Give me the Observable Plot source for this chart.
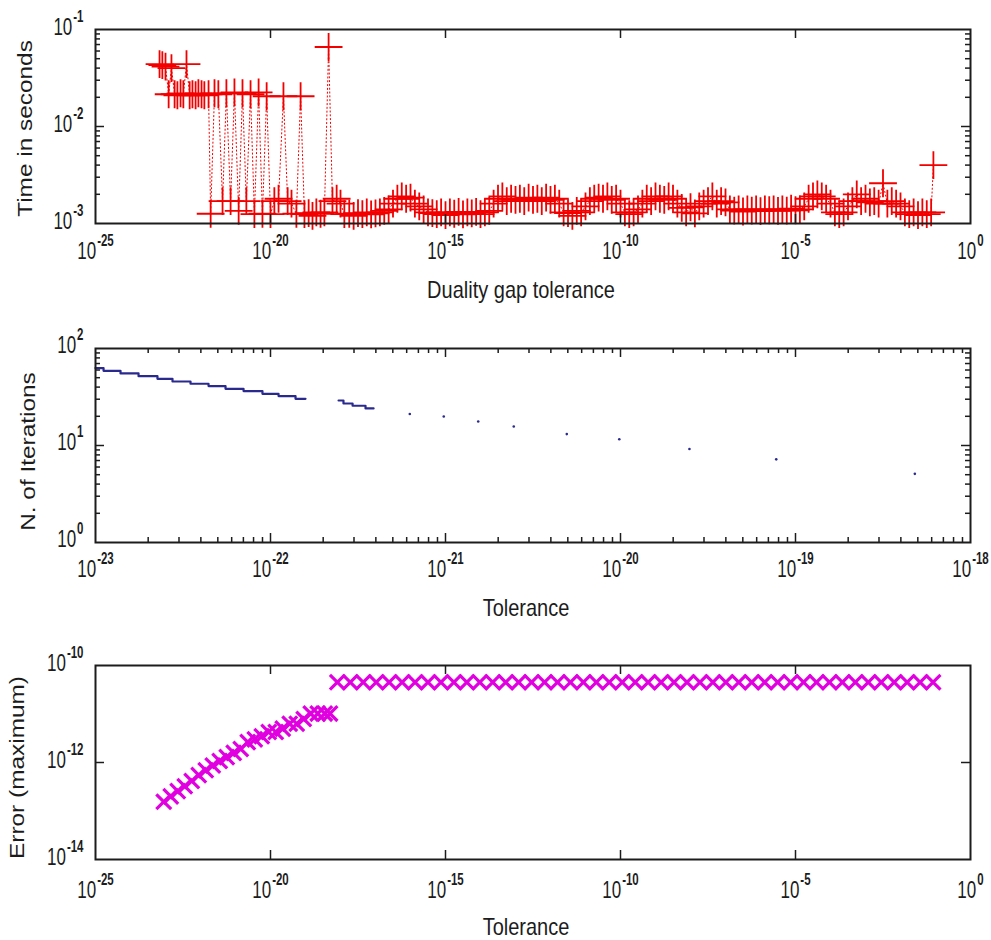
<!DOCTYPE html>
<html>
<head>
<meta charset="utf-8">
<script src="https://cdn.jsdelivr.net/npm/d3@7"></script>
<script src="https://cdn.jsdelivr.net/npm/@observablehq/plot@0.6"></script>
<style>
  html, body { margin: 0; padding: 0; background: #fff; }
  #chart { width: 991px; height: 940px; overflow: hidden; }
  #chart svg { display: block; }
</style>
</head>
<body>
<div id="chart"></div>
<script>
// ---------- Panel 1: time in seconds vs duality gap tolerance (log10 of tolerance) ----------
const timeTolExp = [
  -23.17, -23.09, -23.0, -22.91, -22.83, -22.74, -22.66, -22.57, -22.49, -22.4, -22.31, -22.23, -22.14, -22.06, -21.97, -21.89,
  -21.77, -21.71, -21.6, -21.49, -21.37, -21.26, -21.14, -21.03, -20.91, -20.8, -20.69, -20.57, -20.46, -20.34, -20.23, -20.11,
  -20.0, -19.89, -19.77, -19.63, -19.51, -19.4, -19.26, -19.14, -19.03, -18.91, -18.8, -18.69, -18.57, -18.46, -18.34, -18.23,
  -18.11, -18.0, -17.89,
  -17.75, -17.625, -17.5, -17.375, -17.25, -17.125, -17.0, -16.875, -16.75, -16.625, -16.5, -16.375, -16.25, -16.125,
  -16.0, -15.875, -15.75, -15.625, -15.5, -15.375, -15.25, -15.125, -15.0, -14.875, -14.75, -14.625, -14.5, -14.375,
  -14.25, -14.125, -14.0, -13.875, -13.75, -13.625, -13.5, -13.375, -13.25, -13.125, -13.0, -12.875, -12.75, -12.625,
  -12.5, -12.375, -12.25, -12.125, -12.0, -11.875, -11.75, -11.625, -11.5, -11.375, -11.25, -11.125, -11.0, -10.875,
  -10.75, -10.625, -10.5, -10.375, -10.25, -10.125, -10.0, -9.875, -9.75, -9.625, -9.5, -9.375, -9.25, -9.125,
  -9.0, -8.875, -8.75, -8.625, -8.5, -8.375, -8.25, -8.125, -8.0, -7.875, -7.75, -7.625, -7.5, -7.375,
  -7.25, -7.125, -7.0, -6.875, -6.75, -6.625, -6.5, -6.375, -6.25, -6.125, -6.0, -5.875, -5.75, -5.625,
  -5.5, -5.375, -5.25, -5.125, -5.0, -4.875, -4.75, -4.625, -4.5, -4.375, -4.25, -4.125, -4.0, -3.875,
  -3.75, -3.625, -3.5, -3.375, -3.25, -3.125, -3.0, -2.875, -2.75, -2.625, -2.5, -2.375, -2.25, -2.125,
  -2.0, -1.875, -1.75, -1.625, -1.5, -1.375, -1.25, -1.125, -1.06
];
const timeSec = [
  0.044, 0.043, 0.0415, 0.0215, 0.040, 0.0215, 0.021, 0.022, 0.0215, 0.044, 0.021, 0.0215, 0.021, 0.022, 0.0215, 0.021,
  0.0215, 0.00126, 0.022, 0.0215, 0.0017, 0.022, 0.0017, 0.0225, 0.00135, 0.022, 0.0017, 0.0215, 0.00125, 0.0225, 0.00126, 0.0205,
  0.00125, 0.0017, 0.0018, 0.0205, 0.0017, 0.0016, 0.00126, 0.0205, 0.00125, 0.00128, 0.0012, 0.0013, 0.00126, 0.0013, 0.066, 0.0017,
  0.0018, 0.0016, 0.00125,
  0.00126, 0.0012, 0.00128, 0.00125, 0.0013, 0.00124, 0.00127, 0.0013, 0.00135, 0.0014, 0.0016, 0.0018, 0.0019, 0.0018,
  0.00185, 0.0016, 0.0015, 0.0014, 0.0013, 0.00128, 0.00125, 0.0013, 0.00122, 0.0013, 0.00126, 0.00132, 0.00124, 0.0013,
  0.00127, 0.00132, 0.00125, 0.0013, 0.00135, 0.0016, 0.0018, 0.0019, 0.0017, 0.0018, 0.00175, 0.0018, 0.0017, 0.00185,
  0.00175, 0.0018, 0.0017, 0.00185, 0.00175, 0.0018, 0.0016, 0.0013, 0.00128, 0.0012, 0.00135, 0.0013, 0.0015, 0.0017,
  0.0018, 0.00185, 0.0018, 0.0019, 0.00175, 0.0018, 0.0016, 0.0013, 0.00125, 0.0013, 0.0014, 0.0016, 0.0018, 0.0017,
  0.0019, 0.0018, 0.00175, 0.0019, 0.0018, 0.0016, 0.00145, 0.0013, 0.00147, 0.00127, 0.0015, 0.0016, 0.0017, 0.0019,
  0.0016, 0.0017, 0.00165, 0.0014, 0.00136, 0.0014, 0.00133, 0.0014, 0.00136, 0.0014, 0.00134, 0.0014, 0.00137, 0.0014,
  0.00135, 0.0014, 0.00136, 0.00142, 0.00137, 0.0014, 0.0015, 0.0018, 0.0019, 0.002, 0.0019, 0.0018, 0.0016, 0.0013,
  0.00125, 0.0013, 0.0015, 0.0017, 0.002, 0.0017, 0.0018, 0.00165, 0.0017, 0.0016, 0.0026, 0.0016, 0.0017, 0.0016,
  0.0015, 0.0013, 0.00125, 0.0013, 0.00122, 0.0013, 0.00125, 0.0013, 0.004
];

// ---------- Panel 2: number of iterations vs tolerance ----------
const iterTolExpA = [-23.0, -22.954, -22.857, -22.754, -22.646, -22.56, -22.457, -22.354, -22.257, -22.154, -22.046, -21.954, -21.857, -21.8];
const iterA       = [62.8, 58.9, 55.3, 51.9, 48.7, 45.7, 43.3, 41.0, 38.4, 36.4, 34.1, 32.3, 30.3, 30.3];
const iterTolExpB = [-21.611, -21.583, -21.531, -21.457, -21.411];
const iterB       = [29.1, 27.1, 25.7, 24.1, 24.1];
const iterDotExp  = [-21.204, -21.01, -20.813, -20.61, -20.307, -20.007, -19.606, -19.11, -18.318];
const iterDot     = [21.1, 19.9, 17.7, 15.7, 13.1, 11.6, 9.2, 7.2, 5.1];

// ---------- Panel 3: maximum error vs tolerance ----------
const errTolExp = [
  -23.05, -22.85, -22.65, -22.45, -22.25, -22.05, -21.85, -21.65, -21.45, -21.25, -21.05, -20.85, -20.65,
  -20.45, -20.25, -20.05, -19.85, -19.65, -19.45, -19.25, -19.05, -18.85, -18.65, -18.45, -18.3,
  -18.09, -17.72, -17.35, -16.98, -16.61, -16.24, -15.87, -15.5, -15.13, -14.76, -14.39, -14.02, -13.65, -13.28,
  -12.91, -12.54, -12.17, -11.8, -11.43, -11.06, -10.69, -10.32, -9.95, -9.58, -9.21, -8.84, -8.47, -8.1,
  -7.73, -7.36, -6.99, -6.62, -6.25, -5.88, -5.51, -5.14, -4.77, -4.4, -4.03, -3.66, -3.29, -2.92,
  -2.55, -2.18, -1.81, -1.44, -1.07
];
const errMax = [
  1.55e-13, 2.0e-13, 2.57e-13, 3.24e-13, 4.17e-13, 5.5e-13, 6.9e-13, 8.7e-13, 1.07e-12, 1.29e-12, 1.58e-12, 1.9e-12, 2.63e-12,
  3.0e-12, 3.47e-12, 4.27e-12, 4.27e-12, 5.0e-12, 6.3e-12, 6.3e-12, 7.9e-12, 1.02e-11, 1.02e-11, 1.02e-11, 1.02e-11,
  4.5e-11, 4.5e-11, 4.5e-11, 4.5e-11, 4.5e-11, 4.5e-11, 4.5e-11, 4.5e-11, 4.5e-11, 4.5e-11, 4.5e-11, 4.5e-11, 4.5e-11, 4.5e-11,
  4.5e-11, 4.5e-11, 4.5e-11, 4.5e-11, 4.5e-11, 4.5e-11, 4.5e-11, 4.5e-11, 4.5e-11, 4.5e-11, 4.5e-11, 4.5e-11, 4.5e-11, 4.5e-11,
  4.5e-11, 4.5e-11, 4.5e-11, 4.5e-11, 4.5e-11, 4.5e-11, 4.5e-11, 4.5e-11, 4.5e-11, 4.5e-11, 4.5e-11, 4.5e-11, 4.5e-11, 4.5e-11,
  4.5e-11, 4.5e-11, 4.5e-11, 4.5e-11, 4.5e-11
];

// ---------- Axis tick labels (exponents of 10) ----------
const xLabelExp1 = [-25, -20, -15, -10, -5, 0];
const yLabelExp1 = [-3, -2, -1];
const xLabelExp2 = [-23, -22, -21, -20, -19, -18];
const yLabelExp2 = [0, 1, 2];
const xLabelExp3 = [-25, -20, -15, -10, -5, 0];
const yLabelExp3 = [-14, -12, -10];
const minorMultipliers = [2, 3, 4, 5, 6, 7, 8, 9];

const INK = "#1c1c1c";
const RED = "#f20000";
const BLUE = "#2a2a8e";
const MAGENTA = "#e000e0";
const FONT = "'Liberation Sans', Arial, Helvetica, sans-serif";
const W = 991, ML = 95, MR = 21;

const pow10 = e => Math.pow(10, e);
const minorTicks = exps => exps.flatMap(e => minorMultipliers.map(m => m * pow10(e)));

function panel(o) {
  const ih = o.height - o.marginTop - o.marginBottom;
  const iw = W - ML - MR;
  const tk = {stroke: INK, strokeWidth: 1.5};
  return Plot.plot({
    width: W, height: o.height,
    marginLeft: ML, marginRight: MR, marginTop: o.marginTop, marginBottom: o.marginBottom,
    x: {type: "log", domain: o.xDomain, axis: null},
    y: {type: "log", domain: o.yDomain, axis: null},
    style: {fontFamily: FONT, color: INK, background: "#fff", overflow: "visible"},
    marks: [
      ...o.marks,
      Plot.ruleX(o.xMajor, {x: d => d, insetTop: ih - 9, ...tk}),
      Plot.ruleX(o.xMajor, {x: d => d, insetBottom: ih - 9, ...tk}),
      Plot.ruleX(o.xMinor, {x: d => d, insetTop: ih - 5, ...tk}),
      Plot.ruleX(o.xMinor, {x: d => d, insetBottom: ih - 5, ...tk}),
      Plot.ruleY(o.yMajor, {y: d => d, insetRight: iw - 9, ...tk}),
      Plot.ruleY(o.yMajor, {y: d => d, insetLeft: iw - 9, ...tk}),
      Plot.ruleY(o.yMinor, {y: d => d, insetRight: iw - 5, ...tk}),
      Plot.ruleY(o.yMinor, {y: d => d, insetLeft: iw - 5, ...tk}),
      Plot.frame({stroke: INK, strokeWidth: 2}),
      Plot.text(o.xLabels, {x: d => pow10(d), frameAnchor: "bottom", text: d => "10^" + d, textAnchor: "middle", lineAnchor: "middle", dy: o.xLabDy, fontSize: 17, fill: INK}),
      Plot.text(o.yLabels, {y: d => pow10(d), frameAnchor: "left", text: d => "10^" + d, textAnchor: "end", lineAnchor: "middle", dx: -12, dy: o.yLabDy, fontSize: 17, fill: INK}),
      Plot.text([o.xTitle], {frameAnchor: "bottom", text: d => d, textAnchor: "middle", lineAnchor: "middle", dx: o.xTitleDx, dy: o.xTitleDy, fontSize: 20, fill: INK}),
      Plot.text([o.yTitle], {frameAnchor: "left", text: d => d, textAnchor: "middle", lineAnchor: "middle", rotate: -90, dx: o.yTitleDx, dy: o.yTitleDy, fontSize: 20, fill: INK})
    ]
  });
}

// Superscript exponents and the tall, narrow look of the original lettering
function finishText(svg) {
  for (const t of svg.querySelectorAll("text")) {
    let tr = t.getAttribute("transform");
    if (!tr) {
      const x = +(t.getAttribute("x") || 0), y = +(t.getAttribute("y") || 0);
      t.removeAttribute("x"); t.removeAttribute("y");
      tr = `translate(${x},${y})`;
    }
    const m = /^10\^(-?\d+)$/.exec(t.textContent);
    if (m) {
      t.textContent = "10";
      const ts = document.createElementNS("http://www.w3.org/2000/svg", "tspan");
      ts.setAttribute("dy", "-9.5");
      ts.setAttribute("dx", "1");
      ts.setAttribute("font-size", "11.5");
      ts.setAttribute("font-weight", "bold");
      ts.textContent = m[1];
      t.appendChild(ts);
      t.setAttribute("transform", tr + " scale(1,1.45)");
    } else if (/rotate/.test(tr)) {
      t.setAttribute("transform", tr + " scale(1.22,1)");
    } else {
      t.setAttribute("transform", tr + " scale(1,1.2)");
    }
  }
  return svg;
}

const timeData = timeTolExp.map((e, i) => ({tol: pow10(e), t: timeSec[i]}));
const stepsA = iterTolExpA.map((e, i) => ({tol: pow10(e), n: iterA[i]}));
const stepsB = iterTolExpB.map((e, i) => ({tol: pow10(e), n: iterB[i]}));
const iterDots = iterDotExp.map((e, i) => ({tol: pow10(e), n: iterDot[i]}));
const errData = errTolExp.map((e, i) => ({tol: pow10(e), err: errMax[i]}));

const p1 = panel({
  height: 315, marginTop: 29, marginBottom: 92,
  xDomain: [1e-25, 1], yDomain: [1e-3, 1e-1],
  xMajor: [-20, -15, -10, -5].map(pow10), xMinor: [],
  yMajor: [1e-2], yMinor: minorTicks([-3, -2]),
  xLabels: xLabelExp1, yLabels: yLabelExp1, xLabDy: 28, yLabDy: -2,
  xTitle: "Duality gap tolerance", xTitleDx: -12, xTitleDy: 67,
  yTitle: "Time in seconds", yTitleDx: -70, yTitleDy: 2,
  marks: [
    Plot.line(timeData, {x: "tol", y: "t", stroke: RED, strokeWidth: 1, strokeDasharray: "1.2,2.6"}),
    Plot.dot(timeData, {x: "tol", y: "t", symbol: "plus", r: 9, stroke: RED, strokeWidth: 1.8})
  ]
});

const p2 = panel({
  height: 315, marginTop: 33, marginBottom: 88,
  xDomain: [1e-23, 1e-18], yDomain: [1, 100],
  xMajor: [-22, -21, -20, -19].map(pow10), xMinor: minorTicks([-23, -22, -21, -20, -19]),
  yMajor: [10], yMinor: minorTicks([0, 1]),
  xLabels: xLabelExp2, yLabels: yLabelExp2, xLabDy: 27, yLabDy: -3,
  xTitle: "Tolerance", xTitleDx: -7, xTitleDy: 66,
  yTitle: "N. of Iterations", yTitleDx: -67, yTitleDy: 6,
  marks: [
    Plot.line(stepsA, {x: "tol", y: "n", curve: "step-after", stroke: BLUE, strokeWidth: 2.2}),
    Plot.line(stepsB, {x: "tol", y: "n", curve: "step-after", stroke: BLUE, strokeWidth: 2.2}),
    Plot.dot(iterDots, {x: "tol", y: "n", r: 1.3, fill: BLUE})
  ]
});

const p3 = panel({
  height: 310, marginTop: 35, marginBottom: 81,
  xDomain: [1e-25, 1], yDomain: [1e-14, 1e-10],
  xMajor: [-20, -15, -10, -5].map(pow10), xMinor: [],
  yMajor: [1e-12], yMinor: [],
  xLabels: xLabelExp3, yLabels: yLabelExp3, xLabDy: 31, yLabDy: -2,
  xTitle: "Tolerance", xTitleDx: -7, xTitleDy: 68,
  yTitle: "Error (maximum)", yTitleDx: -78, yTitleDy: 5,
  marks: [
    Plot.dot(errData, {x: "tol", y: "err", symbol: "times", r: 6.8, stroke: MAGENTA, strokeWidth: 3.2})
  ]
});

const chart = document.getElementById("chart");
for (const p of [p1, p2, p3]) chart.appendChild(finishText(p));
</script>
</body>
</html>
